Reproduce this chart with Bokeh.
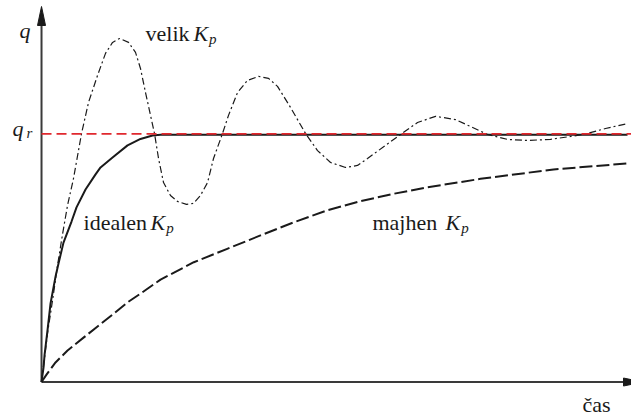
from bokeh.plotting import figure
from bokeh.models import Range1d
from bokeh.core.properties import value
from bokeh.embed import file_html
from bokeh.resources import INLINE

# Step responses of a P-controlled loop for three gains.
# time t (arbitrary units), output q relative to the set point q_r = 1

t_ideal = [0.0, 0.034, 0.051, 0.102, 0.154, 0.239, 0.290, 0.375, 0.512, 0.597,
           0.751, 0.922, 1.007, 1.212, 1.468, 1.689, 1.894, 2.031, 10.0]
q_ideal = [0.0, 0.058, 0.107, 0.208, 0.317, 0.425, 0.478, 0.562, 0.647, 0.704,
           0.776, 0.837, 0.865, 0.905, 0.954, 0.980, 0.994, 0.997, 0.997]

t_large = [0.0, 0.051, 0.102, 0.188, 0.273, 0.358, 0.444, 0.546, 0.683, 0.802,
           0.956, 1.092, 1.212, 1.331, 1.485, 1.604, 1.689, 1.775, 1.860, 1.928,
           1.997, 2.082, 2.201, 2.321, 2.474, 2.594, 2.713, 2.833, 2.935, 3.089,
           3.191, 3.345, 3.515, 3.703, 3.874, 4.027, 4.249, 4.505, 4.710, 4.932,
           5.188, 5.392, 5.563, 5.870, 6.126, 6.416, 6.724, 7.065, 7.321, 7.611,
           7.952, 8.294, 8.686, 9.249, 9.625, 10.0]
q_large = [0.0, 0.095, 0.196, 0.329, 0.470, 0.595, 0.712, 0.821, 1.002, 1.127,
           1.236, 1.325, 1.369, 1.385, 1.369, 1.329, 1.264, 1.167, 1.075, 1.002,
           0.901, 0.804, 0.752, 0.728, 0.716, 0.720, 0.752, 0.804, 0.901, 1.002,
           1.075, 1.167, 1.216, 1.232, 1.224, 1.192, 1.107, 1.002, 0.933, 0.885,
           0.865, 0.873, 0.901, 0.954, 0.998, 1.046, 1.071, 1.058, 1.030, 0.998,
           0.978, 0.974, 0.978, 0.998, 1.022, 1.042]

t_small = [0.0, 0.085, 0.239, 0.444, 0.717, 0.956, 1.212, 1.468, 1.741, 2.031,
           2.599, 3.169, 3.737, 4.305, 4.875, 5.444, 6.012, 6.582, 7.150, 7.491,
           8.737, 10.0]
q_small = [0.0, 0.030, 0.079, 0.127, 0.179, 0.224, 0.272, 0.321, 0.365, 0.413,
           0.483, 0.537, 0.591, 0.644, 0.692, 0.729, 0.759, 0.785, 0.806, 0.819,
           0.857, 0.881]

q_ref = 1.0

# ranges: t spans 58.6 px per unit, q spans 248 px per unit
T_MIN, T_MAX = -0.700, 10.068
Q_MIN, Q_MAX = -0.143, 1.538
PX_T = 58.6
PX_Q = 248.0

p = figure(width=631, height=417, output_backend="svg", toolbar_location=None,
           x_range=Range1d(T_MIN, T_MAX), y_range=Range1d(Q_MIN, Q_MAX),
           x_axis_location=None, y_axis_location=None, min_border=0,
           outline_line_color=None, background_fill_color="white",
           border_fill_color="white")
p.grid.visible = False

axis_col = "#3a3a3a"
ink = "#1a1a1a"

# coordinate axes with arrow heads
q_tip = Q_MAX - 6 / PX_Q
q_base = q_tip - 19 / PX_Q
t_base = 10.0 - 4 / PX_T
t_tip = t_base + 19 / PX_T
p.line([0, 0], [0, q_base], line_color=axis_col, line_width=2)
p.line([0, t_base], [0, 0], line_color=axis_col, line_width=2)
p.patch([-4 / PX_T, 4 / PX_T, 0], [q_base, q_base, q_tip],
        fill_color=ink, line_color=ink)
p.patch([t_base, t_base, t_tip], [-4 / PX_Q, 4 / PX_Q, 0],
        fill_color=ink, line_color=ink)

# responses
p.line(t_small, q_small, line_color=ink, line_width=2, line_dash="13 4")
p.line(t_ideal, q_ideal, line_color=ink, line_width=2)
p.line(t_large, q_large, line_color=ink, line_width=1.2, line_dash="7 3 2 3")

# set point
p.line([0, T_MAX], [q_ref, q_ref], line_color="#e0282e", line_width=1.8,
       line_dash="10 5")

serif = value("Liberation Serif")
LIFT = 0.034  # baseline correction for the svg text renderer

def put(x, y, s, size="22px", style="normal"):
    p.text(x=[x], y=[y + LIFT], text=[s], text_font=serif, text_font_size=size,
           text_font_style=style, text_color=ink, text_align="left",
           text_baseline="alphabetic")

# axis labels
put(-0.375, 1.385, "q", style="italic")
put(-0.495, 0.988, "q", style="italic")
put(-0.255, 0.970, "r", size="15px", style="italic")
put(9.232, -0.123, "čas")

# curve labels
put(1.775, 1.369, "velik ")
put(2.594, 1.369, "K", style="italic")
put(2.860, 1.347, "p", size="15px", style="italic")

put(0.717, 0.609, "idealen ")
put(1.860, 0.609, "K", style="italic")
put(2.130, 0.588, "p", size="15px", style="italic")

put(5.648, 0.609, "majhen ")
put(6.894, 0.609, "K", style="italic")
put(7.164, 0.588, "p", size="15px", style="italic")

open("out.html", "w").write(file_html(p, INLINE))
